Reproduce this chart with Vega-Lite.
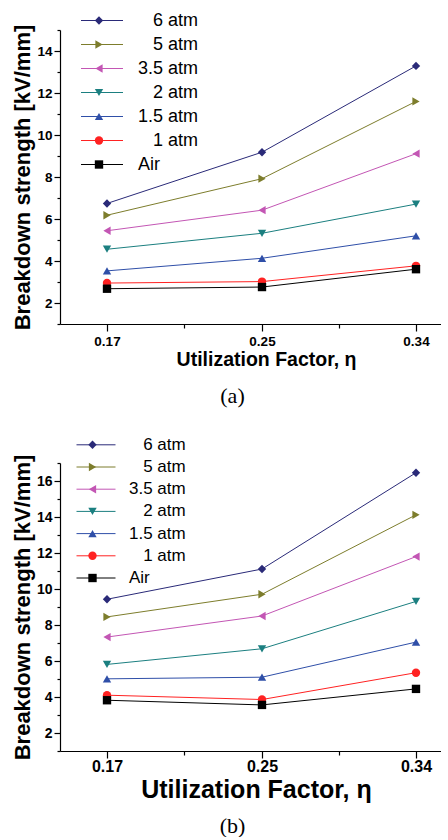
{
  "$schema": "https://vega.github.io/schema/vega-lite/v6.json",
  "padding": {"left": 11, "top": 11, "right": 0, "bottom": 0},
  "background": "white",
  "spacing": 29,
  "datasets": {
    "a": [
      {"series": "6 atm", "eta": 0.17, "kv": 6.74}, {"series": "6 atm", "eta": 0.25, "kv": 9.18}, {"series": "6 atm", "eta": 0.34, "kv": 13.29},
      {"series": "5 atm", "eta": 0.17, "kv": 6.18}, {"series": "5 atm", "eta": 0.25, "kv": 7.92}, {"series": "5 atm", "eta": 0.34, "kv": 11.6},
      {"series": "3.5 atm", "eta": 0.17, "kv": 5.44}, {"series": "3.5 atm", "eta": 0.25, "kv": 6.42}, {"series": "3.5 atm", "eta": 0.34, "kv": 9.11},
      {"series": "2 atm", "eta": 0.17, "kv": 4.56}, {"series": "2 atm", "eta": 0.25, "kv": 5.32}, {"series": "2 atm", "eta": 0.34, "kv": 6.71},
      {"series": "1.5 atm", "eta": 0.17, "kv": 3.53}, {"series": "1.5 atm", "eta": 0.25, "kv": 4.13}, {"series": "1.5 atm", "eta": 0.34, "kv": 5.2},
      {"series": "1 atm", "eta": 0.17, "kv": 2.95}, {"series": "1 atm", "eta": 0.25, "kv": 3.02}, {"series": "1 atm", "eta": 0.34, "kv": 3.77},
      {"series": "Air", "eta": 0.17, "kv": 2.68}, {"series": "Air", "eta": 0.25, "kv": 2.76}, {"series": "Air", "eta": 0.34, "kv": 3.61}
    ],
    "b": [
      {"series": "6 atm", "eta": 0.17, "kv": 9.43}, {"series": "6 atm", "eta": 0.25, "kv": 11.11}, {"series": "6 atm", "eta": 0.34, "kv": 16.46},
      {"series": "5 atm", "eta": 0.17, "kv": 8.45}, {"series": "5 atm", "eta": 0.25, "kv": 9.71}, {"series": "5 atm", "eta": 0.34, "kv": 14.12},
      {"series": "3.5 atm", "eta": 0.17, "kv": 7.33}, {"series": "3.5 atm", "eta": 0.25, "kv": 8.5}, {"series": "3.5 atm", "eta": 0.34, "kv": 11.8},
      {"series": "2 atm", "eta": 0.17, "kv": 5.81}, {"series": "2 atm", "eta": 0.25, "kv": 6.68}, {"series": "2 atm", "eta": 0.34, "kv": 9.31},
      {"series": "1.5 atm", "eta": 0.17, "kv": 5.01}, {"series": "1.5 atm", "eta": 0.25, "kv": 5.1}, {"series": "1.5 atm", "eta": 0.34, "kv": 7.05},
      {"series": "1 atm", "eta": 0.17, "kv": 4.1}, {"series": "1 atm", "eta": 0.25, "kv": 3.86}, {"series": "1 atm", "eta": 0.34, "kv": 5.35},
      {"series": "Air", "eta": 0.17, "kv": 3.82}, {"series": "Air", "eta": 0.25, "kv": 3.56}, {"series": "Air", "eta": 0.34, "kv": 4.45}
    ]
  },
  "vconcat": [
    {
      "width": 381,
      "height": 294,
      "data": {"name": "a"},
      "title": {"text": "(a)", "orient": "bottom", "frame": "group", "font": "Liberation Serif", "fontSize": 22, "fontWeight": "normal", "color": "#000", "offset": 17, "dx": -18},
      "encoding": {
        "x": {
          "field": "eta", "type": "quantitative",
          "scale": {"domain": [0.1457, 0.17, 0.25, 0.34, 0.3546], "range": [0, 47, 202, 356, 381], "zero": false, "nice": false},
          "axis": {
            "values": [0.17, 0.21, 0.25, 0.295, 0.34], "format": ".2f",
            "labelExpr": "datum.value == 0.21 || datum.value == 0.295 ? '' : datum.label",
            "tickSize": {"condition": {"test": "datum.value == 0.21 || datum.value == 0.295", "value": 4}, "value": 7},
            "labelFontSize": 13.5, "labelPadding": 3.5, "labelFlush": false, "labelOverlap": false,
            "title": "Utilization Factor, η", "titleFontSize": 19.5, "titlePadding": 2.5, "titleX": 206
          }
        },
        "y": {
          "field": "kv", "type": "quantitative",
          "scale": {"domain": [1, 15], "zero": false, "nice": false},
          "axis": {
            "values": [1, 2, 3, 4, 5, 6, 7, 8, 9, 10, 11, 12, 13, 14, 15],
            "labelExpr": "datum.value % 2 == 0 ? datum.label : ''",
            "tickSize": {"condition": {"test": "datum.value % 2 == 1", "value": 3}, "value": 6},
            "labelFontSize": 13.5, "labelPadding": 2, "labelFlush": false, "labelOverlap": false,
            "title": "Breakdown strength [kV/mm]", "titleFontSize": 22, "titlePadding": 2
          }
        }
      },
      "layer": [
        {
          "mark": {"type": "line", "strokeWidth": 1},
          "encoding": {
            "stroke": {
              "field": "series", "type": "nominal",
              "sort": ["6 atm", "5 atm", "3.5 atm", "2 atm", "1.5 atm", "1 atm", "Air"],
              "scale": {"range": ["#2a2a78", "#7d7d2c", "#c356b4", "#1b7f80", "#2f4fa8", "#ff2222", "#000000"]},
              "legend": {
                "orient": "none", "legendX": 33, "legendY": -18.5, "title": null, "padding": 0,
                "symbolType": "M-21,0H21", "symbolSize": 4, "symbolStrokeWidth": 1,
                "labelFontSize": 18, "labelFont": "Liberation Sans", "labelFontWeight": "normal", "labelColor": "#000",
                "labelOffset": 27, "rowPadding": 6,
                "labelExpr": "datum.label == 'Air' || datum.label == '3.5 atm' || datum.label == '1.5 atm' ? datum.label : '\u200b\u00a0\u00a0\u00a0' + datum.label"
              }
            }
          }
        },
        {
          "mark": {"type": "point", "filled": true, "size": 70, "opacity": 1},
          "encoding": {
            "fill": {
              "field": "series", "type": "nominal",
              "scale": {"domain": ["6 atm", "5 atm", "3.5 atm", "2 atm", "1.5 atm", "1 atm", "Air"], "range": ["#2a2a78", "#7d7d2c", "#c356b4", "#1b7f80", "#2f4fa8", "#ff2222", "#000000"]},
              "legend": {
                "orient": "none", "legendX": 30, "legendY": -18.5, "title": null, "padding": 0,
                "symbolSize": 70, "symbolStrokeWidth": 0, "symbolOpacity": 1,
                "labelFontSize": 18, "labelExpr": "''", "rowPadding": 6
              }
            },
            "shape": {
              "field": "series", "type": "nominal",
              "scale": {"domain": ["6 atm", "5 atm", "3.5 atm", "2 atm", "1.5 atm", "1 atm", "Air"], "range": ["diamond", "triangle-right", "triangle-left", "triangle-down", "triangle-up", "circle", "square"]}
            }
          }
        }
      ]
    },
    {
      "width": 381,
      "height": 288,
      "data": {"name": "b"},
      "title": {"text": "(b)", "orient": "bottom", "frame": "group", "font": "Liberation Serif", "fontSize": 22, "fontWeight": "normal", "color": "#000", "offset": 14, "dx": -18},
      "encoding": {
        "x": {
          "field": "eta", "type": "quantitative",
          "scale": {"domain": [0.1457, 0.17, 0.25, 0.34, 0.3546], "range": [0, 47, 202, 356, 381], "zero": false, "nice": false},
          "axis": {
            "values": [0.17, 0.21, 0.25, 0.295, 0.34], "format": ".2f",
            "labelExpr": "datum.value == 0.21 || datum.value == 0.295 ? '' : datum.label",
            "tickSize": {"condition": {"test": "datum.value == 0.21 || datum.value == 0.295", "value": 4}, "value": 7},
            "labelFontSize": 16, "labelPadding": 0, "labelFlush": false, "labelOverlap": false,
            "title": "Utilization Factor, η", "titleFontSize": 25, "titlePadding": 3, "titleX": 196
          }
        },
        "y": {
          "field": "kv", "type": "quantitative",
          "scale": {"domain": [1, 17], "zero": false, "nice": false},
          "axis": {
            "values": [1, 2, 3, 4, 5, 6, 7, 8, 9, 10, 11, 12, 13, 14, 15, 16, 17],
            "labelExpr": "datum.value % 2 == 0 ? datum.label : ''",
            "tickSize": {"condition": {"test": "datum.value % 2 == 1", "value": 3}, "value": 6},
            "labelFontSize": 14, "labelPadding": 2, "labelFlush": false, "labelOverlap": false,
            "title": "Breakdown strength [kV/mm]", "titleFontSize": 22, "titlePadding": 2
          }
        }
      },
      "layer": [
        {
          "mark": {"type": "line", "strokeWidth": 1},
          "encoding": {
            "stroke": {
              "field": "series", "type": "nominal",
              "sort": ["6 atm", "5 atm", "3.5 atm", "2 atm", "1.5 atm", "1 atm", "Air"],
              "scale": {"range": ["#2a2a78", "#7d7d2c", "#c356b4", "#1b7f80", "#2f4fa8", "#ff2222", "#000000"]},
              "legend": {
                "orient": "none", "legendX": 27.5, "legendY": -26.7, "title": null, "padding": 0,
                "symbolType": "M-19.5,0H19.5", "symbolSize": 4, "symbolStrokeWidth": 1,
                "labelFontSize": 17, "labelFont": "Liberation Sans", "labelFontWeight": "normal", "labelColor": "#000",
                "labelOffset": 24.5, "rowPadding": 4.2,
                "labelExpr": "datum.label == 'Air' || datum.label == '3.5 atm' || datum.label == '1.5 atm' ? datum.label : '\u200b\u00a0\u00a0\u00a0' + datum.label"
              }
            }
          }
        },
        {
          "mark": {"type": "point", "filled": true, "size": 70, "opacity": 1},
          "encoding": {
            "fill": {
              "field": "series", "type": "nominal",
              "scale": {"domain": ["6 atm", "5 atm", "3.5 atm", "2 atm", "1.5 atm", "1 atm", "Air"], "range": ["#2a2a78", "#7d7d2c", "#c356b4", "#1b7f80", "#2f4fa8", "#ff2222", "#000000"]},
              "legend": {
                "orient": "none", "legendX": 24, "legendY": -26.7, "title": null, "padding": 0,
                "symbolSize": 70, "symbolStrokeWidth": 0, "symbolOpacity": 1,
                "labelFontSize": 17, "labelExpr": "''", "rowPadding": 4.2
              }
            },
            "shape": {
              "field": "series", "type": "nominal",
              "scale": {"domain": ["6 atm", "5 atm", "3.5 atm", "2 atm", "1.5 atm", "1 atm", "Air"], "range": ["diamond", "triangle-right", "triangle-left", "triangle-down", "triangle-up", "circle", "square"]}
            }
          }
        }
      ]
    }
  ],
  "resolve": {"scale": {"stroke": "independent", "fill": "independent", "shape": "independent"}, "legend": {"stroke": "independent", "fill": "independent", "shape": "independent"}},
  "config": {
    "view": {"stroke": null},
    "font": "Liberation Sans",
    "axis": {
      "grid": false, "domainColor": "#000", "tickColor": "#000", "labelColor": "#000", "titleColor": "#000",
      "labelFont": "Liberation Sans", "titleFont": "Liberation Sans", "labelFontWeight": "bold", "titleFontWeight": "bold",
      "domainWidth": 1.2, "tickWidth": 1.2
    }
  }
}
